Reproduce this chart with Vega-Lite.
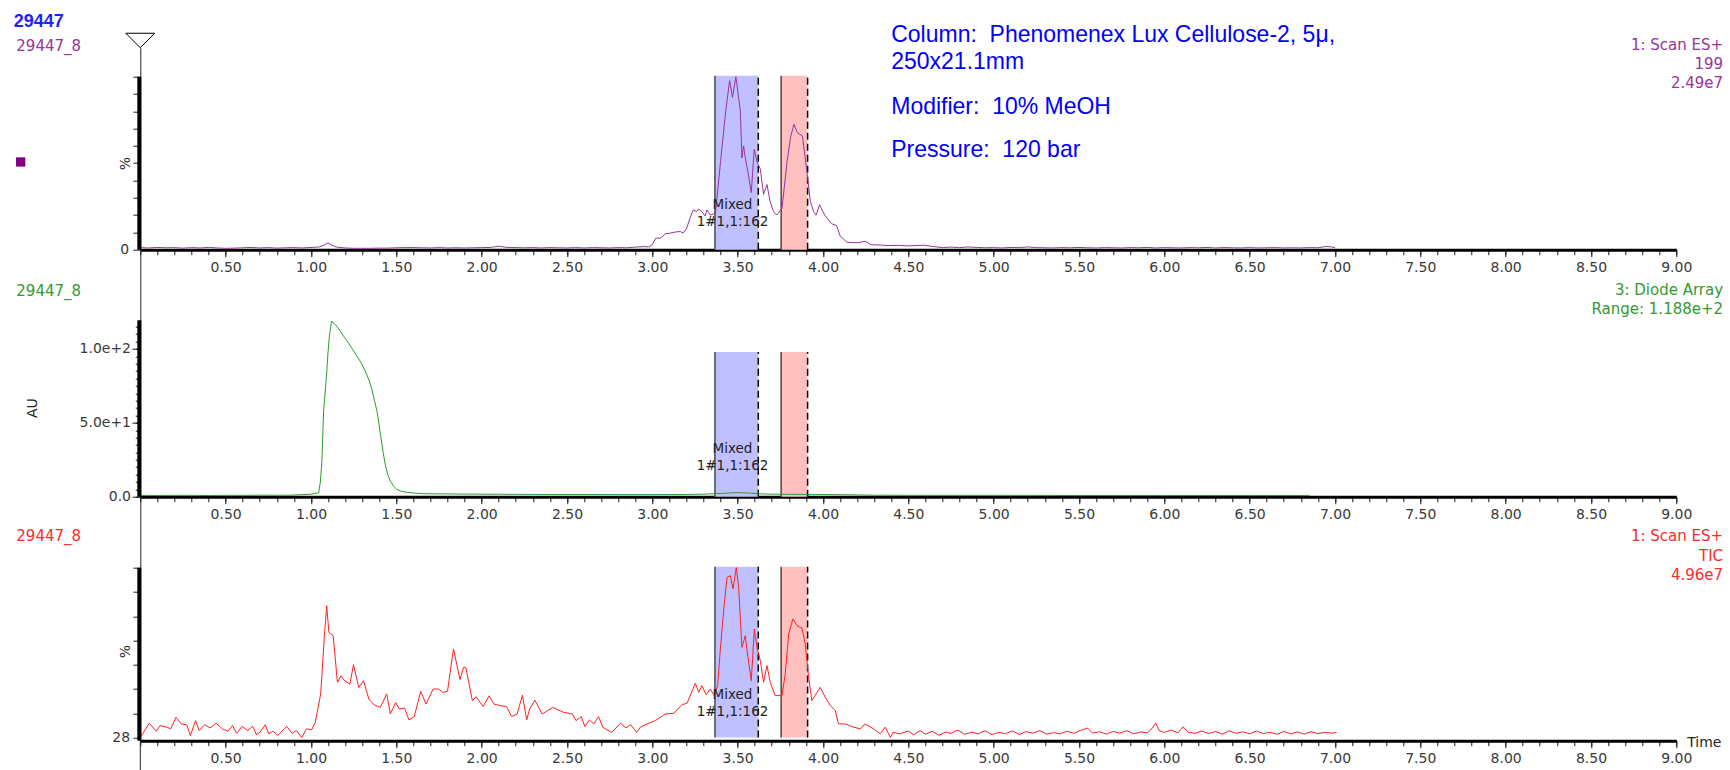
{
  "$schema": "https://vega.github.io/schema/vega-lite/v6.json",
  "padding": {"left": 13.3, "top": 12.7, "right": 4, "bottom": 0},
  "background": "white",
  "config": {
    "view": {"stroke": null},
    "font": "DejaVu Sans",
    "axis": {"grid": false, "labelFont": "DejaVu Sans", "labelFontSize": 14, "labelColor": "#3a3a3a", "tickColor": "#1a1a1a", "tickWidth": 1, "labelOverlap": false, "labelFlush": false}
  },
  "datasets": {
    "one": [{}],
    "fractions": [
      {"fraction": "1", "start": 3.367, "end": 3.621},
      {"fraction": "2", "start": 3.755, "end": 3.91}
    ],
    "ms199": [
      {"t": 0.0, "v": 1.2}, {"t": 0.05, "v": 1.0}, {"t": 0.1, "v": 1.3}, {"t": 0.15, "v": 1.1}, {"t": 0.2, "v": 1.2},
      {"t": 0.25, "v": 0.9}, {"t": 0.3, "v": 1.2}, {"t": 0.35, "v": 1.0}, {"t": 0.4, "v": 1.3}, {"t": 0.45, "v": 1.0},
      {"t": 0.5, "v": 0.8}, {"t": 0.55, "v": 0.9}, {"t": 0.6, "v": 1.1}, {"t": 0.65, "v": 1.3}, {"t": 0.7, "v": 1.0},
      {"t": 0.75, "v": 1.2}, {"t": 0.8, "v": 0.9}, {"t": 0.85, "v": 1.1}, {"t": 0.9, "v": 1.2}, {"t": 0.95, "v": 1.0},
      {"t": 1.0, "v": 1.3}, {"t": 1.05, "v": 1.6}, {"t": 1.08, "v": 2.8}, {"t": 1.1, "v": 4.0}, {"t": 1.12, "v": 2.6},
      {"t": 1.15, "v": 1.5}, {"t": 1.2, "v": 1.0}, {"t": 1.25, "v": 0.8}, {"t": 1.3, "v": 0.8}, {"t": 1.35, "v": 0.8},
      {"t": 1.4, "v": 0.9}, {"t": 1.45, "v": 0.9}, {"t": 1.5, "v": 1.1}, {"t": 1.55, "v": 1.2}, {"t": 1.6, "v": 1.2},
      {"t": 1.65, "v": 1.1}, {"t": 1.7, "v": 1.0}, {"t": 1.75, "v": 1.2}, {"t": 1.8, "v": 1.0}, {"t": 1.85, "v": 1.1},
      {"t": 1.9, "v": 1.0}, {"t": 1.95, "v": 1.1}, {"t": 2.0, "v": 1.2}, {"t": 2.05, "v": 1.3}, {"t": 2.1, "v": 2.0},
      {"t": 2.15, "v": 1.3}, {"t": 2.2, "v": 1.2}, {"t": 2.25, "v": 1.1}, {"t": 2.3, "v": 1.2}, {"t": 2.35, "v": 1.0},
      {"t": 2.4, "v": 1.2}, {"t": 2.45, "v": 1.1}, {"t": 2.5, "v": 1.0}, {"t": 2.55, "v": 1.2}, {"t": 2.6, "v": 1.0},
      {"t": 2.65, "v": 1.2}, {"t": 2.7, "v": 1.1}, {"t": 2.75, "v": 1.0}, {"t": 2.8, "v": 1.2}, {"t": 2.85, "v": 1.1},
      {"t": 2.9, "v": 1.5}, {"t": 2.95, "v": 1.8}, {"t": 2.98, "v": 1.6}, {"t": 3.0, "v": 3.0}, {"t": 3.02, "v": 6.6},
      {"t": 3.05, "v": 6.8}, {"t": 3.076, "v": 9.2}, {"t": 3.1, "v": 9.5}, {"t": 3.14, "v": 10.3}, {"t": 3.164, "v": 10.5},
      {"t": 3.18, "v": 9.6}, {"t": 3.2, "v": 12.0}, {"t": 3.22, "v": 18.0}, {"t": 3.24, "v": 23.0}, {"t": 3.26, "v": 22.0},
      {"t": 3.27, "v": 23.5}, {"t": 3.29, "v": 22.0}, {"t": 3.31, "v": 19.5}, {"t": 3.32, "v": 23.0}, {"t": 3.34, "v": 20.0},
      {"t": 3.37, "v": 21.0}, {"t": 3.4, "v": 51.0}, {"t": 3.43, "v": 80.0}, {"t": 3.453, "v": 97.7}, {"t": 3.47, "v": 88.0},
      {"t": 3.49, "v": 100.0}, {"t": 3.516, "v": 80.0}, {"t": 3.525, "v": 53.0}, {"t": 3.535, "v": 60.0}, {"t": 3.545, "v": 53.0},
      {"t": 3.56, "v": 45.0}, {"t": 3.58, "v": 33.0}, {"t": 3.597, "v": 58.0}, {"t": 3.613, "v": 51.0}, {"t": 3.633, "v": 46.5},
      {"t": 3.652, "v": 32.0}, {"t": 3.672, "v": 37.7}, {"t": 3.69, "v": 28.0}, {"t": 3.71, "v": 22.0}, {"t": 3.73, "v": 20.0},
      {"t": 3.76, "v": 24.0}, {"t": 3.79, "v": 51.0}, {"t": 3.81, "v": 65.0}, {"t": 3.83, "v": 72.5}, {"t": 3.85, "v": 67.6},
      {"t": 3.88, "v": 65.7}, {"t": 3.906, "v": 45.0}, {"t": 3.926, "v": 28.0}, {"t": 3.945, "v": 22.0}, {"t": 3.96, "v": 20.0},
      {"t": 3.98, "v": 26.0}, {"t": 4.01, "v": 20.0}, {"t": 4.05, "v": 15.0}, {"t": 4.08, "v": 14.0}, {"t": 4.1, "v": 8.0},
      {"t": 4.14, "v": 4.3}, {"t": 4.2, "v": 4.0}, {"t": 4.25, "v": 4.9}, {"t": 4.28, "v": 2.9}, {"t": 4.35, "v": 2.6},
      {"t": 4.39, "v": 2.4}, {"t": 4.45, "v": 2.5}, {"t": 4.49, "v": 2.2}, {"t": 4.55, "v": 2.4}, {"t": 4.59, "v": 2.6},
      {"t": 4.65, "v": 1.8}, {"t": 4.7, "v": 1.2}, {"t": 4.75, "v": 1.5}, {"t": 4.8, "v": 1.2}, {"t": 4.85, "v": 1.6},
      {"t": 4.9, "v": 1.3}, {"t": 4.95, "v": 1.1}, {"t": 5.0, "v": 1.2}, {"t": 5.05, "v": 1.0}, {"t": 5.1, "v": 1.3},
      {"t": 5.15, "v": 1.2}, {"t": 5.2, "v": 1.6}, {"t": 5.25, "v": 1.2}, {"t": 5.3, "v": 1.1}, {"t": 5.35, "v": 1.0},
      {"t": 5.4, "v": 1.2}, {"t": 5.45, "v": 1.1}, {"t": 5.5, "v": 1.3}, {"t": 5.55, "v": 1.1}, {"t": 5.6, "v": 1.0},
      {"t": 5.65, "v": 1.2}, {"t": 5.7, "v": 1.1}, {"t": 5.75, "v": 1.0}, {"t": 5.8, "v": 1.2}, {"t": 5.85, "v": 1.1},
      {"t": 5.9, "v": 1.3}, {"t": 5.95, "v": 1.0}, {"t": 6.0, "v": 1.2}, {"t": 6.05, "v": 1.1}, {"t": 6.1, "v": 1.0},
      {"t": 6.15, "v": 1.2}, {"t": 6.2, "v": 1.1}, {"t": 6.25, "v": 1.3}, {"t": 6.3, "v": 1.0}, {"t": 6.35, "v": 1.2},
      {"t": 6.4, "v": 1.1}, {"t": 6.45, "v": 1.0}, {"t": 6.5, "v": 1.2}, {"t": 6.55, "v": 1.0}, {"t": 6.6, "v": 1.1},
      {"t": 6.65, "v": 1.2}, {"t": 6.7, "v": 1.0}, {"t": 6.75, "v": 1.1}, {"t": 6.8, "v": 1.0}, {"t": 6.85, "v": 1.2},
      {"t": 6.9, "v": 1.1}, {"t": 6.95, "v": 1.9}, {"t": 6.98, "v": 1.6}, {"t": 7.0, "v": 1.1}
    ],
    "dad": [
      {"t": 0.0, "v": 0.9}, {"t": 0.1, "v": 0.8}, {"t": 0.2, "v": 0.9}, {"t": 0.3, "v": 0.9}, {"t": 0.4, "v": 0.8},
      {"t": 0.5, "v": 0.9}, {"t": 0.6, "v": 0.9}, {"t": 0.7, "v": 1.0}, {"t": 0.8, "v": 1.0}, {"t": 0.88, "v": 1.0},
      {"t": 0.95, "v": 1.4}, {"t": 1.0, "v": 1.7}, {"t": 1.045, "v": 2.6}, {"t": 1.055, "v": 10.0}, {"t": 1.064, "v": 24.0},
      {"t": 1.074, "v": 58.0}, {"t": 1.09, "v": 80.0}, {"t": 1.1, "v": 98.0}, {"t": 1.109, "v": 110.0}, {"t": 1.121, "v": 118.8},
      {"t": 1.143, "v": 116.5}, {"t": 1.172, "v": 112.0}, {"t": 1.195, "v": 108.0}, {"t": 1.22, "v": 104.0}, {"t": 1.245, "v": 99.5},
      {"t": 1.27, "v": 95.0}, {"t": 1.295, "v": 90.5}, {"t": 1.318, "v": 85.0}, {"t": 1.34, "v": 79.0}, {"t": 1.357, "v": 72.6},
      {"t": 1.372, "v": 65.0}, {"t": 1.387, "v": 58.0}, {"t": 1.4, "v": 48.0}, {"t": 1.41, "v": 40.0}, {"t": 1.423, "v": 30.0},
      {"t": 1.435, "v": 21.8}, {"t": 1.45, "v": 15.0}, {"t": 1.465, "v": 10.5}, {"t": 1.485, "v": 7.0}, {"t": 1.503, "v": 4.9},
      {"t": 1.53, "v": 3.6}, {"t": 1.56, "v": 3.0}, {"t": 1.6, "v": 2.5}, {"t": 1.66, "v": 2.0}, {"t": 1.76, "v": 1.9},
      {"t": 1.86, "v": 1.8}, {"t": 2.0, "v": 1.7}, {"t": 2.2, "v": 1.6}, {"t": 2.4, "v": 1.5}, {"t": 2.6, "v": 1.5},
      {"t": 2.8, "v": 1.4}, {"t": 3.0, "v": 1.4}, {"t": 3.2, "v": 1.5}, {"t": 3.3, "v": 1.7}, {"t": 3.4, "v": 2.2},
      {"t": 3.5, "v": 2.8}, {"t": 3.58, "v": 2.4}, {"t": 3.65, "v": 1.8}, {"t": 3.8, "v": 1.6}, {"t": 4.0, "v": 1.5},
      {"t": 4.15, "v": 1.3}, {"t": 4.3, "v": 1.0}, {"t": 4.6, "v": 0.9}, {"t": 5.0, "v": 0.9}, {"t": 5.5, "v": 0.8},
      {"t": 6.0, "v": 0.8}, {"t": 6.5, "v": 0.8}, {"t": 6.85, "v": 0.8}
    ],
    "tic": [
      {"t": 0.0, "v": 28.0}, {"t": 0.052, "v": 34.1}, {"t": 0.094, "v": 30.7}, {"t": 0.115, "v": 33.1}, {"t": 0.157, "v": 32.4},
      {"t": 0.178, "v": 31.7}, {"t": 0.209, "v": 36.6}, {"t": 0.24, "v": 33.8}, {"t": 0.272, "v": 33.4}, {"t": 0.293, "v": 28.9},
      {"t": 0.324, "v": 35.2}, {"t": 0.345, "v": 31.0}, {"t": 0.377, "v": 33.5}, {"t": 0.408, "v": 32.1}, {"t": 0.444, "v": 34.1},
      {"t": 0.481, "v": 31.7}, {"t": 0.513, "v": 30.7}, {"t": 0.54, "v": 33.1}, {"t": 0.565, "v": 29.8}, {"t": 0.596, "v": 32.8},
      {"t": 0.628, "v": 31.0}, {"t": 0.659, "v": 32.8}, {"t": 0.68, "v": 29.3}, {"t": 0.7, "v": 30.2}, {"t": 0.732, "v": 33.4},
      {"t": 0.753, "v": 29.6}, {"t": 0.778, "v": 30.7}, {"t": 0.806, "v": 28.9}, {"t": 0.858, "v": 32.8}, {"t": 0.889, "v": 29.8},
      {"t": 0.914, "v": 31.0}, {"t": 0.946, "v": 28.0}, {"t": 0.973, "v": 31.7}, {"t": 1.004, "v": 31.3}, {"t": 1.025, "v": 34.5},
      {"t": 1.057, "v": 46.5}, {"t": 1.078, "v": 70.5}, {"t": 1.092, "v": 83.9}, {"t": 1.105, "v": 72.6}, {"t": 1.13, "v": 71.2},
      {"t": 1.155, "v": 51.4}, {"t": 1.176, "v": 54.2}, {"t": 1.197, "v": 52.1}, {"t": 1.228, "v": 50.7}, {"t": 1.249, "v": 58.9},
      {"t": 1.28, "v": 49.2}, {"t": 1.308, "v": 52.1}, {"t": 1.339, "v": 44.3}, {"t": 1.37, "v": 41.9}, {"t": 1.406, "v": 40.8},
      {"t": 1.444, "v": 46.5}, {"t": 1.465, "v": 38.0}, {"t": 1.496, "v": 42.9}, {"t": 1.517, "v": 40.1}, {"t": 1.548, "v": 40.5},
      {"t": 1.574, "v": 35.5}, {"t": 1.605, "v": 36.9}, {"t": 1.643, "v": 47.6}, {"t": 1.674, "v": 42.2}, {"t": 1.716, "v": 48.6},
      {"t": 1.747, "v": 48.6}, {"t": 1.772, "v": 47.2}, {"t": 1.8, "v": 47.6}, {"t": 1.835, "v": 65.6}, {"t": 1.873, "v": 52.6},
      {"t": 1.894, "v": 57.8}, {"t": 1.908, "v": 57.5}, {"t": 1.946, "v": 43.6}, {"t": 1.967, "v": 45.3}, {"t": 2.009, "v": 41.2},
      {"t": 2.044, "v": 45.7}, {"t": 2.072, "v": 42.2}, {"t": 2.113, "v": 41.5}, {"t": 2.145, "v": 41.2}, {"t": 2.176, "v": 36.9},
      {"t": 2.208, "v": 38.0}, {"t": 2.239, "v": 46.0}, {"t": 2.264, "v": 35.5}, {"t": 2.281, "v": 40.1}, {"t": 2.312, "v": 43.9},
      {"t": 2.354, "v": 38.0}, {"t": 2.417, "v": 40.8}, {"t": 2.48, "v": 38.7}, {"t": 2.532, "v": 38.0}, {"t": 2.553, "v": 35.2},
      {"t": 2.584, "v": 36.9}, {"t": 2.605, "v": 32.7}, {"t": 2.632, "v": 35.5}, {"t": 2.657, "v": 33.8}, {"t": 2.685, "v": 36.9},
      {"t": 2.71, "v": 32.4}, {"t": 2.762, "v": 30.2}, {"t": 2.814, "v": 34.1}, {"t": 2.846, "v": 32.1}, {"t": 2.873, "v": 33.5},
      {"t": 2.908, "v": 30.2}, {"t": 2.93, "v": 32.4}, {"t": 2.969, "v": 33.8}, {"t": 3.018, "v": 35.2}, {"t": 3.076, "v": 38.0},
      {"t": 3.125, "v": 38.3}, {"t": 3.174, "v": 42.0}, {"t": 3.203, "v": 42.5}, {"t": 3.252, "v": 51.0}, {"t": 3.272, "v": 47.2},
      {"t": 3.29, "v": 50.0}, {"t": 3.316, "v": 46.2}, {"t": 3.34, "v": 48.6}, {"t": 3.363, "v": 45.8}, {"t": 3.383, "v": 50.0},
      {"t": 3.398, "v": 64.8}, {"t": 3.418, "v": 81.8}, {"t": 3.438, "v": 95.9}, {"t": 3.457, "v": 96.6}, {"t": 3.473, "v": 91.0},
      {"t": 3.492, "v": 100.0}, {"t": 3.506, "v": 91.7}, {"t": 3.525, "v": 66.2}, {"t": 3.545, "v": 71.2}, {"t": 3.555, "v": 64.8},
      {"t": 3.58, "v": 52.1}, {"t": 3.598, "v": 74.0}, {"t": 3.613, "v": 66.2}, {"t": 3.633, "v": 60.6}, {"t": 3.652, "v": 51.4},
      {"t": 3.672, "v": 58.5}, {"t": 3.691, "v": 51.4}, {"t": 3.72, "v": 45.8}, {"t": 3.76, "v": 45.8}, {"t": 3.779, "v": 55.0},
      {"t": 3.799, "v": 71.9}, {"t": 3.824, "v": 78.3}, {"t": 3.848, "v": 75.4}, {"t": 3.877, "v": 74.4}, {"t": 3.896, "v": 67.7},
      {"t": 3.916, "v": 53.5}, {"t": 3.935, "v": 43.7}, {"t": 3.955, "v": 46.0}, {"t": 3.984, "v": 49.3}, {"t": 4.014, "v": 45.0},
      {"t": 4.043, "v": 41.6}, {"t": 4.072, "v": 39.5}, {"t": 4.091, "v": 33.8}, {"t": 4.13, "v": 33.8}, {"t": 4.18, "v": 32.4},
      {"t": 4.22, "v": 31.7}, {"t": 4.245, "v": 33.8}, {"t": 4.297, "v": 31.7}, {"t": 4.336, "v": 29.6}, {"t": 4.365, "v": 32.4},
      {"t": 4.395, "v": 28.1}, {"t": 4.41, "v": 30.2}, {"t": 4.45, "v": 29.6}, {"t": 4.5, "v": 30.8}, {"t": 4.53, "v": 29.2},
      {"t": 4.57, "v": 31.0}, {"t": 4.6, "v": 29.5}, {"t": 4.64, "v": 30.6}, {"t": 4.68, "v": 29.0}, {"t": 4.72, "v": 30.4},
      {"t": 4.75, "v": 29.8}, {"t": 4.79, "v": 31.2}, {"t": 4.83, "v": 29.4}, {"t": 4.87, "v": 30.3}, {"t": 4.91, "v": 29.6},
      {"t": 4.95, "v": 30.9}, {"t": 4.99, "v": 29.3}, {"t": 5.03, "v": 30.2}, {"t": 5.07, "v": 29.7}, {"t": 5.11, "v": 30.8},
      {"t": 5.15, "v": 29.4}, {"t": 5.19, "v": 30.5}, {"t": 5.23, "v": 29.9}, {"t": 5.27, "v": 31.0}, {"t": 5.31, "v": 29.5},
      {"t": 5.35, "v": 30.1}, {"t": 5.39, "v": 29.6}, {"t": 5.43, "v": 30.7}, {"t": 5.47, "v": 29.8}, {"t": 5.51, "v": 31.1},
      {"t": 5.55, "v": 32.0}, {"t": 5.58, "v": 29.9}, {"t": 5.62, "v": 30.5}, {"t": 5.66, "v": 29.5}, {"t": 5.7, "v": 30.6},
      {"t": 5.74, "v": 29.9}, {"t": 5.78, "v": 30.9}, {"t": 5.82, "v": 29.6}, {"t": 5.86, "v": 30.4}, {"t": 5.9, "v": 30.0},
      {"t": 5.93, "v": 32.0}, {"t": 5.95, "v": 34.2}, {"t": 5.97, "v": 31.0}, {"t": 6.0, "v": 30.2}, {"t": 6.04, "v": 31.2},
      {"t": 6.08, "v": 30.0}, {"t": 6.11, "v": 32.6}, {"t": 6.14, "v": 30.3}, {"t": 6.18, "v": 29.8}, {"t": 6.22, "v": 30.8},
      {"t": 6.26, "v": 29.7}, {"t": 6.3, "v": 30.6}, {"t": 6.34, "v": 29.5}, {"t": 6.38, "v": 30.9}, {"t": 6.42, "v": 29.8},
      {"t": 6.46, "v": 30.5}, {"t": 6.5, "v": 29.6}, {"t": 6.54, "v": 30.8}, {"t": 6.58, "v": 29.7}, {"t": 6.62, "v": 30.3},
      {"t": 6.66, "v": 29.4}, {"t": 6.7, "v": 30.6}, {"t": 6.74, "v": 29.6}, {"t": 6.78, "v": 30.4}, {"t": 6.82, "v": 29.5},
      {"t": 6.86, "v": 30.5}, {"t": 6.9, "v": 29.7}, {"t": 6.94, "v": 30.3}, {"t": 6.98, "v": 29.9}, {"t": 7.01, "v": 30.2}
    ]
  },
  "vconcat": [
    {
      "width": 1536,
      "height": 202,
      "resolve": {"axis": {"x": "independent", "y": "independent"}},
      "layer": [
        {
          "data": {"name": "ms199"},
          "mark": {"type": "line", "opacity": 0},
          "encoding": {
            "x": {"field": "t", "type": "quantitative", "scale": {"domain": [0, 9], "nice": false, "zero": false},
              "axis": {"orient": "bottom", "title": null, "values": [0,0.1,0.2,0.3,0.4,0.5,0.6,0.7,0.8,0.9,1,1.1,1.2,1.3,1.4,1.5,1.6,1.7,1.8,1.9,2,2.1,2.2,2.3,2.4,2.5,2.6,2.7,2.8,2.9,3,3.1,3.2,3.3,3.4,3.5,3.6,3.7,3.8,3.9,4,4.1,4.2,4.3,4.4,4.5,4.6,4.7,4.8,4.9,5,5.1,5.2,5.3,5.4,5.5,5.6,5.7,5.8,5.9,6,6.1,6.2,6.3,6.4,6.5,6.6,6.7,6.8,6.9,7,7.1,7.2,7.3,7.4,7.5,7.6,7.7,7.8,7.9,8,8.1,8.2,8.3,8.4,8.5,8.6,8.7,8.8,8.9,9],
                "tickSize": 5, "labels": false, "domainWidth": 3, "domainColor": "#000000"}},
            "y": {"field": "v", "type": "quantitative", "scale": {"domain": [0, 116.76], "nice": false, "zero": false},
              "axis": {"orient": "left", "title": null, "values": [0,10,20,30,40,50,60,70,80,90,100], "tickSize": 7.3, "domainWidth": 1, "domainColor": "#222222",
                "labelExpr": "datum.value === 0 ? '0' : ''", "labelPadding": 4.4, "labelOverlap": false}}
          }
        },
        {
          "data": {"name": "ms199"},
          "mark": {"type": "line", "opacity": 0},
          "encoding": {
            "x": {"field": "t", "type": "quantitative",
              "axis": {"orient": "bottom", "title": null, "values": [0.5,1,1.5,2,2.5,3,3.5,4,4.5,5,5.5,6,6.5,7,7.5,8,8.5,9],
                "tickSize": 7, "format": ".2f", "labelPadding": 4, "domain": false, "labelOverlap": false, "labelFlush": false}},
            "y": {"field": "v", "type": "quantitative", "axis": null}
          }
        },
        {
          "data": {"name": "fractions"},
          "mark": {"type": "rect"},
          "encoding": {
            "x": {"field": "start", "type": "quantitative", "axis": null},
            "x2": {"field": "end"},
            "y": {"datum": 0, "type": "quantitative", "axis": null},
            "y2": {"datum": 100.5},
            "fill": {"field": "fraction", "type": "nominal", "scale": {"domain": ["1", "2"], "range": ["#c0c0ff", "#ffc0c0"]}, "legend": null}
          }
        },
        {
          "data": {"name": "fractions"},
          "mark": {"type": "rule", "color": "#4a4a4a", "strokeWidth": 1.5},
          "encoding": {"x": {"field": "start", "type": "quantitative", "axis": null}, "y": {"datum": 0, "type": "quantitative", "axis": null}, "y2": {"datum": 100.5}}
        },
        {
          "data": {"name": "fractions"},
          "mark": {"type": "rule", "color": "#000000", "strokeWidth": 1.5, "strokeDash": [7, 4]},
          "encoding": {"x": {"field": "end", "type": "quantitative", "axis": null}, "y": {"datum": 0, "type": "quantitative", "axis": null}, "y2": {"datum": 100.5}}
        },
        {
          "data": {"name": "ms199"},
          "mark": {"type": "line", "color": "#993399", "strokeWidth": 1},
          "encoding": {"x": {"field": "t", "type": "quantitative", "axis": null}, "y": {"field": "v", "type": "quantitative", "axis": null}}
        },
        {
          "data": {"name": "one"},
          "mark": {"type": "rule", "color": "#000000", "strokeWidth": 4, "xOffset": -1},
          "encoding": {"x": {"datum": 0, "type": "quantitative", "axis": null}, "y": {"datum": 0, "type": "quantitative", "axis": null}, "y2": {"datum": 100}}
        },
        {
          "data": {"name": "one"},
          "mark": {"type": "point", "shape": "M-1,-0.5L1,-0.5L0,0.5Z", "size": 841, "filled": true, "fill": "#ffffff", "stroke": "#000000", "strokeWidth": 1, "opacity": 1, "yOffset": -7.2},
          "encoding": {"x": {"datum": 0, "type": "quantitative", "axis": null}, "y": {"datum": 116.76, "type": "quantitative", "axis": null}}
        },
        {
          "data": {"name": "one"},
          "mark": {"type": "text", "text": "29447", "align": "left", "baseline": "alphabetic", "font": "Liberation Sans", "fontWeight": "bold", "fontSize": 18, "color": "#1f1fff"},
          "encoding": {"x": {"datum": -0.742, "type": "quantitative", "axis": null}, "y": {"datum": 128.5, "type": "quantitative", "axis": null}}
        },
        {
          "data": {"name": "one"},
          "mark": {"type": "text", "text": "29447_8", "align": "left", "baseline": "alphabetic", "fontSize": 15, "color": "#993399"},
          "encoding": {"x": {"datum": -0.7265, "type": "quantitative", "axis": null}, "y": {"datum": 115.0, "type": "quantitative", "axis": null}}
        },
        {
          "data": {"name": "one"},
          "mark": {"type": "point", "shape": "square", "size": 86, "filled": true, "color": "#800080", "opacity": 1},
          "encoding": {"x": {"datum": -0.701, "type": "quantitative", "axis": null}, "y": {"datum": 50.7, "type": "quantitative", "axis": null}}
        },
        {
          "data": {"name": "one"},
          "mark": {"type": "text", "text": "%", "angle": 270, "align": "center", "baseline": "middle", "fontSize": 14, "color": "#222222"},
          "encoding": {"x": {"datum": -0.085, "type": "quantitative", "axis": null}, "y": {"datum": 49.7, "type": "quantitative", "axis": null}}
        },
        {
          "data": {"name": "one"},
          "mark": {"type": "text", "text": ["1: Scan ES+", "199", "2.49e7"], "lineHeight": 19, "align": "right", "baseline": "alphabetic", "fontSize": 15, "color": "#993399"},
          "encoding": {"x": {"datum": 9.274, "type": "quantitative", "axis": null}, "y": {"datum": 115.3, "type": "quantitative", "axis": null}}
        },
        {
          "data": {"name": "one"},
          "mark": {"type": "text", "text": ["Column:\u00a0 Phenomenex Lux Cellulose-2, 5μ,", "250x21.1mm"], "lineHeight": 26.5, "align": "left", "baseline": "alphabetic", "font": "Liberation Sans", "fontSize": 23, "color": "#0000ff"},
          "encoding": {"x": {"datum": 4.4, "type": "quantitative", "axis": null}, "y": {"datum": 119.8, "type": "quantitative", "axis": null}}
        },
        {
          "data": {"name": "one"},
          "mark": {"type": "text", "text": "Modifier:\u00a0 10% MeOH", "align": "left", "baseline": "alphabetic", "font": "Liberation Sans", "fontSize": 23, "color": "#0000ff"},
          "encoding": {"x": {"datum": 4.4, "type": "quantitative", "axis": null}, "y": {"datum": 78.4, "type": "quantitative", "axis": null}}
        },
        {
          "data": {"name": "one"},
          "mark": {"type": "text", "text": "Pressure:\u00a0 120 bar", "align": "left", "baseline": "alphabetic", "font": "Liberation Sans", "fontSize": 23, "color": "#0000ff"},
          "encoding": {"x": {"datum": 4.4, "type": "quantitative", "axis": null}, "y": {"datum": 53.4, "type": "quantitative", "axis": null}}
        },
        {
          "data": {"name": "one"},
          "mark": {"type": "text", "text": ["Mixed", "1#1,1:162"], "lineHeight": 17, "align": "center", "baseline": "alphabetic", "fontSize": 13.5, "color": "#222222"},
          "encoding": {"x": {"datum": 3.47, "type": "quantitative", "axis": null}, "y": {"datum": 23.5, "type": "quantitative", "axis": null}}
        }
      ]
    },
    {
      "width": 1536,
      "height": 247,
      "resolve": {"axis": {"x": "independent", "y": "independent"}},
      "layer": [
        {
          "data": {"name": "dad"},
          "mark": {"type": "line", "opacity": 0},
          "encoding": {
            "x": {"field": "t", "type": "quantitative", "scale": {"domain": [0, 9], "nice": false, "zero": false},
              "axis": {"orient": "bottom", "title": null, "values": [0,0.1,0.2,0.3,0.4,0.5,0.6,0.7,0.8,0.9,1,1.1,1.2,1.3,1.4,1.5,1.6,1.7,1.8,1.9,2,2.1,2.2,2.3,2.4,2.5,2.6,2.7,2.8,2.9,3,3.1,3.2,3.3,3.4,3.5,3.6,3.7,3.8,3.9,4,4.1,4.2,4.3,4.4,4.5,4.6,4.7,4.8,4.9,5,5.1,5.2,5.3,5.4,5.5,5.6,5.7,5.8,5.9,6,6.1,6.2,6.3,6.4,6.5,6.6,6.7,6.8,6.9,7,7.1,7.2,7.3,7.4,7.5,7.6,7.7,7.8,7.9,8,8.1,8.2,8.3,8.4,8.5,8.6,8.7,8.8,8.9,9],
                "tickSize": 5, "labels": false, "domainWidth": 3, "domainColor": "#000000"}},
            "y": {"field": "v", "type": "quantitative", "scale": {"domain": [0, 167.2], "nice": false, "zero": false},
              "axis": {"orient": "left", "title": null, "values": [0,5,10,15,20,25,30,35,40,45,50,55,60,65,70,75,80,85,90,95,100,105,110,115], "tickSize": 5, "labels": false, "domainWidth": 1, "domainColor": "#222222"}}
          }
        },
        {
          "data": {"name": "dad"},
          "mark": {"type": "line", "opacity": 0},
          "encoding": {
            "x": {"field": "t", "type": "quantitative",
              "axis": {"orient": "bottom", "title": null, "values": [0.5,1,1.5,2,2.5,3,3.5,4,4.5,5,5.5,6,6.5,7,7.5,8,8.5,9],
                "tickSize": 7, "format": ".2f", "labelPadding": 4, "domain": false, "labelOverlap": false, "labelFlush": false}},
            "y": {"field": "v", "type": "quantitative",
              "axis": {"orient": "left", "title": null, "values": [0, 50, 100], "tickSize": 8.3, "domain": false, "labelOverlap": false,
                "labelExpr": "datum.value === 100 ? '1.0e+2' : datum.value === 50 ? '5.0e+1' : '0.0'", "labelPadding": 1.5}}
          }
        },
        {
          "data": {"name": "fractions"},
          "mark": {"type": "rect"},
          "encoding": {
            "x": {"field": "start", "type": "quantitative", "axis": null},
            "x2": {"field": "end"},
            "y": {"datum": 0, "type": "quantitative", "axis": null},
            "y2": {"datum": 98},
            "fill": {"field": "fraction", "type": "nominal", "scale": {"domain": ["1", "2"], "range": ["#c0c0ff", "#ffc0c0"]}, "legend": null}
          }
        },
        {
          "data": {"name": "fractions"},
          "mark": {"type": "rule", "color": "#4a4a4a", "strokeWidth": 1.5},
          "encoding": {"x": {"field": "start", "type": "quantitative", "axis": null}, "y": {"datum": 0, "type": "quantitative", "axis": null}, "y2": {"datum": 98}}
        },
        {
          "data": {"name": "fractions"},
          "mark": {"type": "rule", "color": "#000000", "strokeWidth": 1.5, "strokeDash": [7, 4]},
          "encoding": {"x": {"field": "end", "type": "quantitative", "axis": null}, "y": {"datum": 0, "type": "quantitative", "axis": null}, "y2": {"datum": 98}}
        },
        {
          "data": {"name": "dad"},
          "mark": {"type": "line", "color": "#2e9a2e", "strokeWidth": 1},
          "encoding": {"x": {"field": "t", "type": "quantitative", "axis": null}, "y": {"field": "v", "type": "quantitative", "axis": null}}
        },
        {
          "data": {"name": "one"},
          "mark": {"type": "rule", "color": "#000000", "strokeWidth": 4, "xOffset": -1},
          "encoding": {"x": {"datum": 0, "type": "quantitative", "axis": null}, "y": {"datum": 0, "type": "quantitative", "axis": null}, "y2": {"datum": 119.5}}
        },
        {
          "data": {"name": "one"},
          "mark": {"type": "text", "text": "29447_8", "align": "left", "baseline": "alphabetic", "fontSize": 15, "color": "#339933"},
          "encoding": {"x": {"datum": -0.7265, "type": "quantitative", "axis": null}, "y": {"datum": 136.1, "type": "quantitative", "axis": null}}
        },
        {
          "data": {"name": "one"},
          "mark": {"type": "text", "text": "AU", "angle": 270, "align": "center", "baseline": "middle", "fontSize": 14, "color": "#222222"},
          "encoding": {"x": {"datum": -0.63, "type": "quantitative", "axis": null}, "y": {"datum": 59.9, "type": "quantitative", "axis": null}}
        },
        {
          "data": {"name": "one"},
          "mark": {"type": "text", "text": ["3: Diode Array", "Range: 1.188e+2"], "lineHeight": 19.3, "align": "right", "baseline": "alphabetic", "fontSize": 15, "color": "#339933"},
          "encoding": {"x": {"datum": 9.274, "type": "quantitative", "axis": null}, "y": {"datum": 136.4, "type": "quantitative", "axis": null}}
        },
        {
          "data": {"name": "one"},
          "mark": {"type": "text", "text": ["Mixed", "1#1,1:162"], "lineHeight": 17, "align": "center", "baseline": "alphabetic", "fontSize": 13.5, "color": "#222222"},
          "encoding": {"x": {"datum": 3.47, "type": "quantitative", "axis": null}, "y": {"datum": 29.9, "type": "quantitative", "axis": null}}
        }
      ]
    },
    {
      "width": 1536,
      "height": 244,
      "resolve": {"axis": {"x": "independent", "y": "independent"}},
      "layer": [
        {
          "data": {"name": "tic"},
          "mark": {"type": "line", "opacity": 0},
          "encoding": {
            "x": {"field": "t", "type": "quantitative", "scale": {"domain": [0, 9], "nice": false, "zero": false},
              "axis": {"orient": "bottom", "title": null, "values": [0,0.1,0.2,0.3,0.4,0.5,0.6,0.7,0.8,0.9,1,1.1,1.2,1.3,1.4,1.5,1.6,1.7,1.8,1.9,2,2.1,2.2,2.3,2.4,2.5,2.6,2.7,2.8,2.9,3,3.1,3.2,3.3,3.4,3.5,3.6,3.7,3.8,3.9,4,4.1,4.2,4.3,4.4,4.5,4.6,4.7,4.8,4.9,5,5.1,5.2,5.3,5.4,5.5,5.6,5.7,5.8,5.9,6,6.1,6.2,6.3,6.4,6.5,6.6,6.7,6.8,6.9,7,7.1,7.2,7.3,7.4,7.5,7.6,7.7,7.8,7.9,8,8.1,8.2,8.3,8.4,8.5,8.6,8.7,8.8,8.9,9],
                "tickSize": 5, "labels": false, "domainWidth": 3, "domainColor": "#000000"}},
            "y": {"field": "v", "type": "quantitative", "scale": {"domain": [26.7, 130.05], "nice": false, "zero": false},
              "axis": {"orient": "left", "title": null, "values": [28, 38.3, 48.6, 58.9, 69.1, 79.4, 89.7, 100], "tickSize": 7.3, "domainWidth": 1, "domainColor": "#222222",
                "labelExpr": "datum.value === 28 ? '28' : ''", "labelPadding": 3.4, "labelOverlap": false}}
          }
        },
        {
          "data": {"name": "tic"},
          "mark": {"type": "line", "opacity": 0},
          "encoding": {
            "x": {"field": "t", "type": "quantitative",
              "axis": {"orient": "bottom", "title": null, "values": [0.5,1,1.5,2,2.5,3,3.5,4,4.5,5,5.5,6,6.5,7,7.5,8,8.5,9],
                "tickSize": 7, "format": ".2f", "labelPadding": 4, "domain": false, "labelOverlap": false, "labelFlush": false}},
            "y": {"field": "v", "type": "quantitative", "axis": null}
          }
        },
        {
          "data": {"name": "fractions"},
          "mark": {"type": "rect"},
          "encoding": {
            "x": {"field": "start", "type": "quantitative", "axis": null},
            "x2": {"field": "end"},
            "y": {"datum": 28, "type": "quantitative", "axis": null},
            "y2": {"datum": 100.4},
            "fill": {"field": "fraction", "type": "nominal", "scale": {"domain": ["1", "2"], "range": ["#c0c0ff", "#ffc0c0"]}, "legend": null}
          }
        },
        {
          "data": {"name": "fractions"},
          "mark": {"type": "rule", "color": "#4a4a4a", "strokeWidth": 1.5},
          "encoding": {"x": {"field": "start", "type": "quantitative", "axis": null}, "y": {"datum": 28, "type": "quantitative", "axis": null}, "y2": {"datum": 100.4}}
        },
        {
          "data": {"name": "fractions"},
          "mark": {"type": "rule", "color": "#000000", "strokeWidth": 1.5, "strokeDash": [7, 4]},
          "encoding": {"x": {"field": "end", "type": "quantitative", "axis": null}, "y": {"datum": 28, "type": "quantitative", "axis": null}, "y2": {"datum": 100.4}}
        },
        {
          "data": {"name": "tic"},
          "mark": {"type": "line", "color": "#ff2020", "strokeWidth": 1},
          "encoding": {"x": {"field": "t", "type": "quantitative", "axis": null}, "y": {"field": "v", "type": "quantitative", "axis": null}}
        },
        {
          "data": {"name": "one"},
          "mark": {"type": "rule", "color": "#000000", "strokeWidth": 4, "xOffset": -1},
          "encoding": {"x": {"datum": 0, "type": "quantitative", "axis": null}, "y": {"datum": 26.7, "type": "quantitative", "axis": null}, "y2": {"datum": 100}}
        },
        {
          "data": {"name": "one"},
          "mark": {"type": "rule", "color": "#222222", "strokeWidth": 1},
          "encoding": {"x": {"datum": 0, "type": "quantitative", "axis": null}, "y": {"datum": 26.7, "type": "quantitative", "axis": null}, "y2": {"datum": 13.5}}
        },
        {
          "data": {"name": "one"},
          "mark": {"type": "text", "text": "29447_8", "align": "left", "baseline": "alphabetic", "fontSize": 15, "color": "#ff2a2a"},
          "encoding": {"x": {"datum": -0.7265, "type": "quantitative", "axis": null}, "y": {"datum": 111.1, "type": "quantitative", "axis": null}}
        },
        {
          "data": {"name": "one"},
          "mark": {"type": "text", "text": "%", "angle": 270, "align": "center", "baseline": "middle", "fontSize": 14, "color": "#222222"},
          "encoding": {"x": {"datum": -0.085, "type": "quantitative", "axis": null}, "y": {"datum": 64.4, "type": "quantitative", "axis": null}}
        },
        {
          "data": {"name": "one"},
          "mark": {"type": "text", "text": ["1: Scan ES+", "TIC", "4.96e7"], "lineHeight": 19.5, "align": "right", "baseline": "alphabetic", "fontSize": 15, "color": "#ff2a2a"},
          "encoding": {"x": {"datum": 9.274, "type": "quantitative", "axis": null}, "y": {"datum": 111.2, "type": "quantitative", "axis": null}}
        },
        {
          "data": {"name": "one"},
          "mark": {"type": "text", "text": "Time", "align": "left", "baseline": "middle", "fontSize": 14, "color": "#222222"},
          "encoding": {"x": {"datum": 9.064, "type": "quantitative", "axis": null}, "y": {"datum": 25.6, "type": "quantitative", "axis": null}}
        },
        {
          "data": {"name": "one"},
          "mark": {"type": "text", "text": ["Mixed", "1#1,1:162"], "lineHeight": 17, "align": "center", "baseline": "alphabetic", "fontSize": 13.5, "color": "#222222"},
          "encoding": {"x": {"datum": 3.47, "type": "quantitative", "axis": null}, "y": {"datum": 44.4, "type": "quantitative", "axis": null}}
        }
      ]
    }
  ],
  "spacing": 0,
  "bounds": "flush"
}
